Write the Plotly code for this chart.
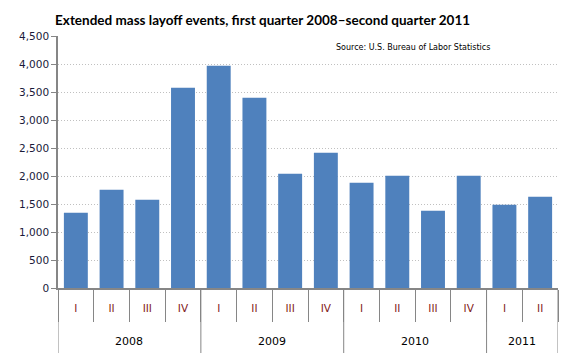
import plotly.graph_objects as go

years = ["2008", "2009", "2010", "2011"]
quarters = ["I", "II", "III", "IV", "I", "II", "III", "IV", "I", "II", "III", "IV", "I", "II"]
quarter_year = ["2008"] * 4 + ["2009"] * 4 + ["2010"] * 4 + ["2011"] * 2
events = [1345, 1755, 1577, 3577, 3970, 3398, 2041, 2416, 1880, 2003, 1380, 2003, 1488, 1630]

x = list(range(len(events)))

fig = go.Figure()
fig.add_trace(go.Bar(x=x, y=events, marker=dict(color="#4F81BD", line=dict(width=0)),
                     width=0.67, hoverinfo="y"))

axis_color = "#868686"
font_main = "DejaVu Sans"

# year separators and labels
bounds = [-0.5]
centers = []
start = 0
for yr in years:
    n = quarter_year.count(yr)
    centers.append(start + (n - 1) / 2)
    start += n
    bounds.append(start - 0.5)

shapes = []
for b in bounds:
    shapes.append(dict(type="line", xref="x", yref="paper", x0=b, x1=b, y0=0, y1=-0.258,
                       line=dict(color=axis_color, width=1)))
annotations = []
for yr, c in zip(years, centers):
    annotations.append(dict(x=c, y=-0.214, xref="x", yref="paper", text=yr, showarrow=False,
                            font=dict(family=font_main, size=11, color="#000000"),
                            xanchor="center", yanchor="middle"))
annotations.append(dict(x=0.868, y=0.955, xref="paper", yref="paper",
                        text="Source: U.S. Bureau of Labor Statistics", showarrow=False,
                        font=dict(family=font_main, size=8, color="#000000"),
                        xanchor="right", yanchor="middle"))

fig.update_layout(
    width=580, height=363,
    margin=dict(l=58, r=22, t=36, b=75),
    plot_bgcolor="white", paper_bgcolor="white",
    showlegend=False,
    title=dict(text="<b>Extended mass layoff events, first quarter 2008\u2013second quarter 2011</b>",
               x=0.095, xanchor="left", y=0.944, yanchor="middle",
               font=dict(family="Lato", size=13.5, color="#000000")),
    shapes=shapes,
    annotations=annotations,
    bargap=0.33,
)
fig.update_xaxes(
    range=[-0.5, len(events) - 0.5],
    tickvals=x, ticktext=quarters, ticks="", ticklabelstandoff=10,
    tickfont=dict(family=font_main, size=10.5, color="#7F2020"),
    showline=True, linecolor=axis_color, linewidth=1.5,
    showgrid=False, zeroline=False, fixedrange=True, automargin=False,
    minor=dict(tickvals=[i - 0.5 for i in range(len(events) + 1)], ticks="outside",
               ticklen=32, tickcolor=axis_color, tickwidth=1, showgrid=False),
)
fig.update_yaxes(
    range=[0, 4500], dtick=500, tickformat=",",
    ticks="outside", ticklen=5, tickcolor=axis_color,
    tickfont=dict(family=font_main, size=10.5, color="#1a1a3a"),
    showline=True, linecolor=axis_color, linewidth=1.5,
    showgrid=True, gridcolor="#c0c0c0", griddash="1px,2px", gridwidth=1,
    zeroline=False, fixedrange=True, automargin=False,
)

fig.write_html("out.html", config={"displayModeBar": False},
               post_script="document.body.style.margin='0';")
